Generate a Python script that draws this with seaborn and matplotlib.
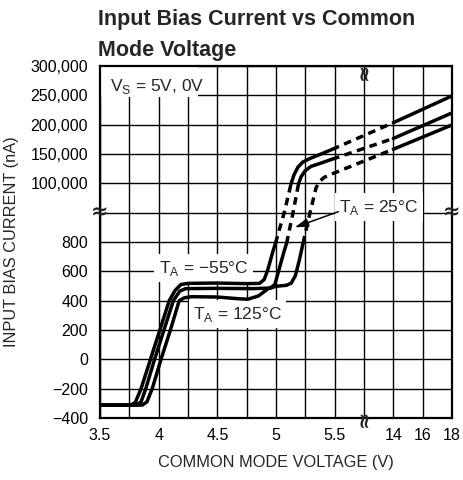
import numpy as np
import matplotlib
matplotlib.use("Agg")
import matplotlib.pyplot as plt
from matplotlib.patches import Rectangle
import seaborn as sns

# curve values (x = common mode voltage in V, y = bias current in nA)
m55_x = [3.5, 3.76, 3.8, 3.85, 3.93, 4.01, 4.09, 4.14, 4.19, 4.25, 4.5, 4.75, 4.86, 4.9, 4.93, 4.975, 4.995,
         5.07, 5.128, 5.153, 5.188, 5.23, 5.29, 5.375, 5.477, 14, 18]
m55_y = [-312, -312, -295, -200, 0, 200, 400, 470, 510, 518, 520, 516, 518, 545, 610, 740, 790,
         1000, 98900, 114300, 127900, 136400, 142400, 149200, 157700, 203400, 249000]
m55_dashed = [(4.995, 5.128), (5.477, 14)]

p25_x = [3.5, 3.81, 3.85, 3.89, 3.965, 4.045, 4.125, 4.18, 4.23, 4.5, 4.8, 4.95, 4.99, 5.025, 5.07, 5.09,
         5.145, 5.192, 5.213, 5.247, 5.298, 5.375, 5.477, 14, 18]
p25_y = [-312, -312, -290, -200, 0, 200, 400, 465, 482, 484, 482, 486, 510, 610, 740, 790,
         1000, 98900, 110900, 121100, 128800, 133900, 141000, 176500, 220000]
p25_dashed = [(5.09, 5.192), (5.477, 14)]

p125_x = [3.5, 3.86, 3.9, 3.945, 4.02, 4.1, 4.175, 4.22, 4.28, 4.5, 4.68, 4.76, 4.85, 4.93, 5.0, 5.09, 5.13,
          5.165, 5.2, 5.23, 5.29, 5.341, 5.367, 5.409, 5.477, 14, 18]
p125_y = [-312, -312, -290, -200, 0, 200, 400, 420, 427, 425, 413, 410, 432, 480, 498, 505, 520,
          570, 680, 790, 1000, 92100, 102300, 110000, 116000, 158100, 199500]
p125_dashed = [(5.23, 14)]

x_ticks = [3.5, 4, 4.5, 5, 5.5, 14, 16, 18]
x_tick_labels = ["3.5", "4", "4.5", "5", "5.5", "14", "16", "18"]
x_minor = [3.75, 4.25, 4.75, 5.25, 5.75]
y_ticks = [-400, -200, 0, 200, 400, 600, 800, 100000, 150000, 200000, 250000, 300000]
y_tick_labels = ["\u2212400", "\u2212200", "0", "200", "400", "600", "800",
                 "100,000", "150,000", "200,000", "250,000", "300,000"]
y_minor = [1000]

# broken axes done as piecewise linear scales
x_knots = [3.5, 5.75, 12, 18]
x_pos = [0, 9, 9.001, 12]
y_knots = [-400, 1000, 50000, 300000]
y_pos = [0, 7, 7.001, 12]

sns.set_style("whitegrid", rc={"axes.edgecolor": "black", "grid.color": "black",
                               "axes.linewidth": 1.6, "grid.linewidth": 1.0})
plt.rcParams["font.family"] = ["Liberation Sans", "DejaVu Sans"]

fig = plt.figure(figsize=(4.63, 4.80), dpi=100)
ax = fig.add_axes([100 / 463, 62 / 480, 352 / 463, 352 / 480])
ax.set_xscale("function", functions=(lambda v: np.interp(v, x_knots, x_pos),
                                     lambda v: np.interp(v, x_pos, x_knots)))
ax.set_yscale("function", functions=(lambda v: np.interp(v, y_knots, y_pos),
                                     lambda v: np.interp(v, y_pos, y_knots)))


def draw_curve(xs, ys, dashed):
    # split the curve in solid / dashed runs
    flags = []
    for i in range(len(xs) - 1):
        mid = (xs[i] + xs[i + 1]) / 2
        flags.append(any(a <= mid <= b for a, b in dashed))
    runs = []
    s = 0
    for i in range(1, len(flags)):
        if flags[i] != flags[i - 1]:
            runs.append((s, i, flags[i - 1]))
            s = i
    runs.append((s, len(xs) - 1, flags[-1]))
    for s, e, d in runs:
        ls = (0, (2.2, 1.6)) if d else "-"
        sns.lineplot(x=xs[s:e + 1], y=ys[s:e + 1], ax=ax, sort=False, estimator=None,
                     color="black", linewidth=2.5, linestyle=ls, zorder=4)


draw_curve(m55_x, m55_y, m55_dashed)
draw_curve(p25_x, p25_y, p25_dashed)
draw_curve(p125_x, p125_y, p125_dashed)

ax.set_xlim(3.5, 18)
ax.set_ylim(-400, 300000)
ax.set_xticks(x_ticks, labels=x_tick_labels)
ax.set_xticks(x_minor, minor=True)
ax.set_yticks(y_ticks, labels=y_tick_labels)
ax.set_yticks(y_minor, minor=True)
ax.grid(which="both", color="black", linewidth=1.0)
ax.tick_params(which="both", length=0, labelsize=11.5, labelcolor="black")
ax.tick_params(axis="y", pad=8.5)
ax.tick_params(axis="x", pad=7.5)
for sp in ax.spines.values():
    sp.set_visible(True)
    sp.set_color("black")
    sp.set_linewidth(1.6)
    sp.set_zorder(5)

ax.set_xlabel("COMMON MODE VOLTAGE (V)", fontsize=11.8)
ax.set_ylabel("INPUT BIAS CURRENT (nA)", fontsize=11.8)
ax.xaxis.label.set_va("center")
ax.yaxis.label.set_va("center")
ax.xaxis.set_label_coords(0.5, -0.125)
ax.yaxis.set_label_coords(-0.25, 0.5)

# annotations
ax.add_patch(Rectangle((0, 0.912), 0.278, 0.088, transform=ax.transAxes,
                       facecolor="white", edgecolor="none", zorder=2))
ax.text(0.028, 0.943, r"V$_\mathregular{S}$ = 5V, 0V", transform=ax.transAxes,
        ha="left", va="center", fontsize=12.5, zorder=3)
box = dict(boxstyle="square,pad=0.25", facecolor="white", edgecolor="none")
ax.text(0.294, 0.426, "T$_\\mathregular{A}$ = \u221255\u00b0C", transform=ax.transAxes,
        ha="center", va="center", fontsize=12.5, bbox=box, zorder=3)
ax.text(0.391, 0.295, "T$_\\mathregular{A}$ = 125\u00b0C", transform=ax.transAxes,
        ha="center", va="center", fontsize=12.5, bbox=box, zorder=3)
ax.text(0.793, 0.599, "T$_\\mathregular{A}$ = 25\u00b0C", transform=ax.transAxes,
        ha="center", va="center", fontsize=12.5, bbox=box, zorder=3)
arrow_tip = (5.16, 900)
ax.annotate("", xy=arrow_tip, xycoords="data", xytext=(0.677, 0.586), textcoords="axes fraction",
            arrowprops=dict(arrowstyle="-|>,head_length=0.8,head_width=0.25", color="black",
                            lw=1.1, shrinkA=0, shrinkB=0), zorder=6)

# break marks
brk = dict(ha="center", va="center", fontsize=15, fontweight="bold", family="DejaVu Sans",
           clip_on=False, zorder=6)
ax.text(0, 1000, "\u2248", transform=ax.get_yaxis_transform(), **brk)
ax.text(1, 1000, "\u2248", transform=ax.get_yaxis_transform(), **brk)
ax.text(5.75, 0.986, "\u2248", transform=ax.get_xaxis_transform(), rotation=90, **brk)
ax.text(5.75, 0.0, "\u2248", transform=ax.get_xaxis_transform(), rotation=90, **brk)

fig.text(98 / 463, 1 - 9 / 480, "Input Bias Current vs Common\nMode Voltage", ha="left", va="top",
         fontsize=15.5, fontweight="bold", linespacing=1.6)

fig.savefig("out.png", dpi=100)
